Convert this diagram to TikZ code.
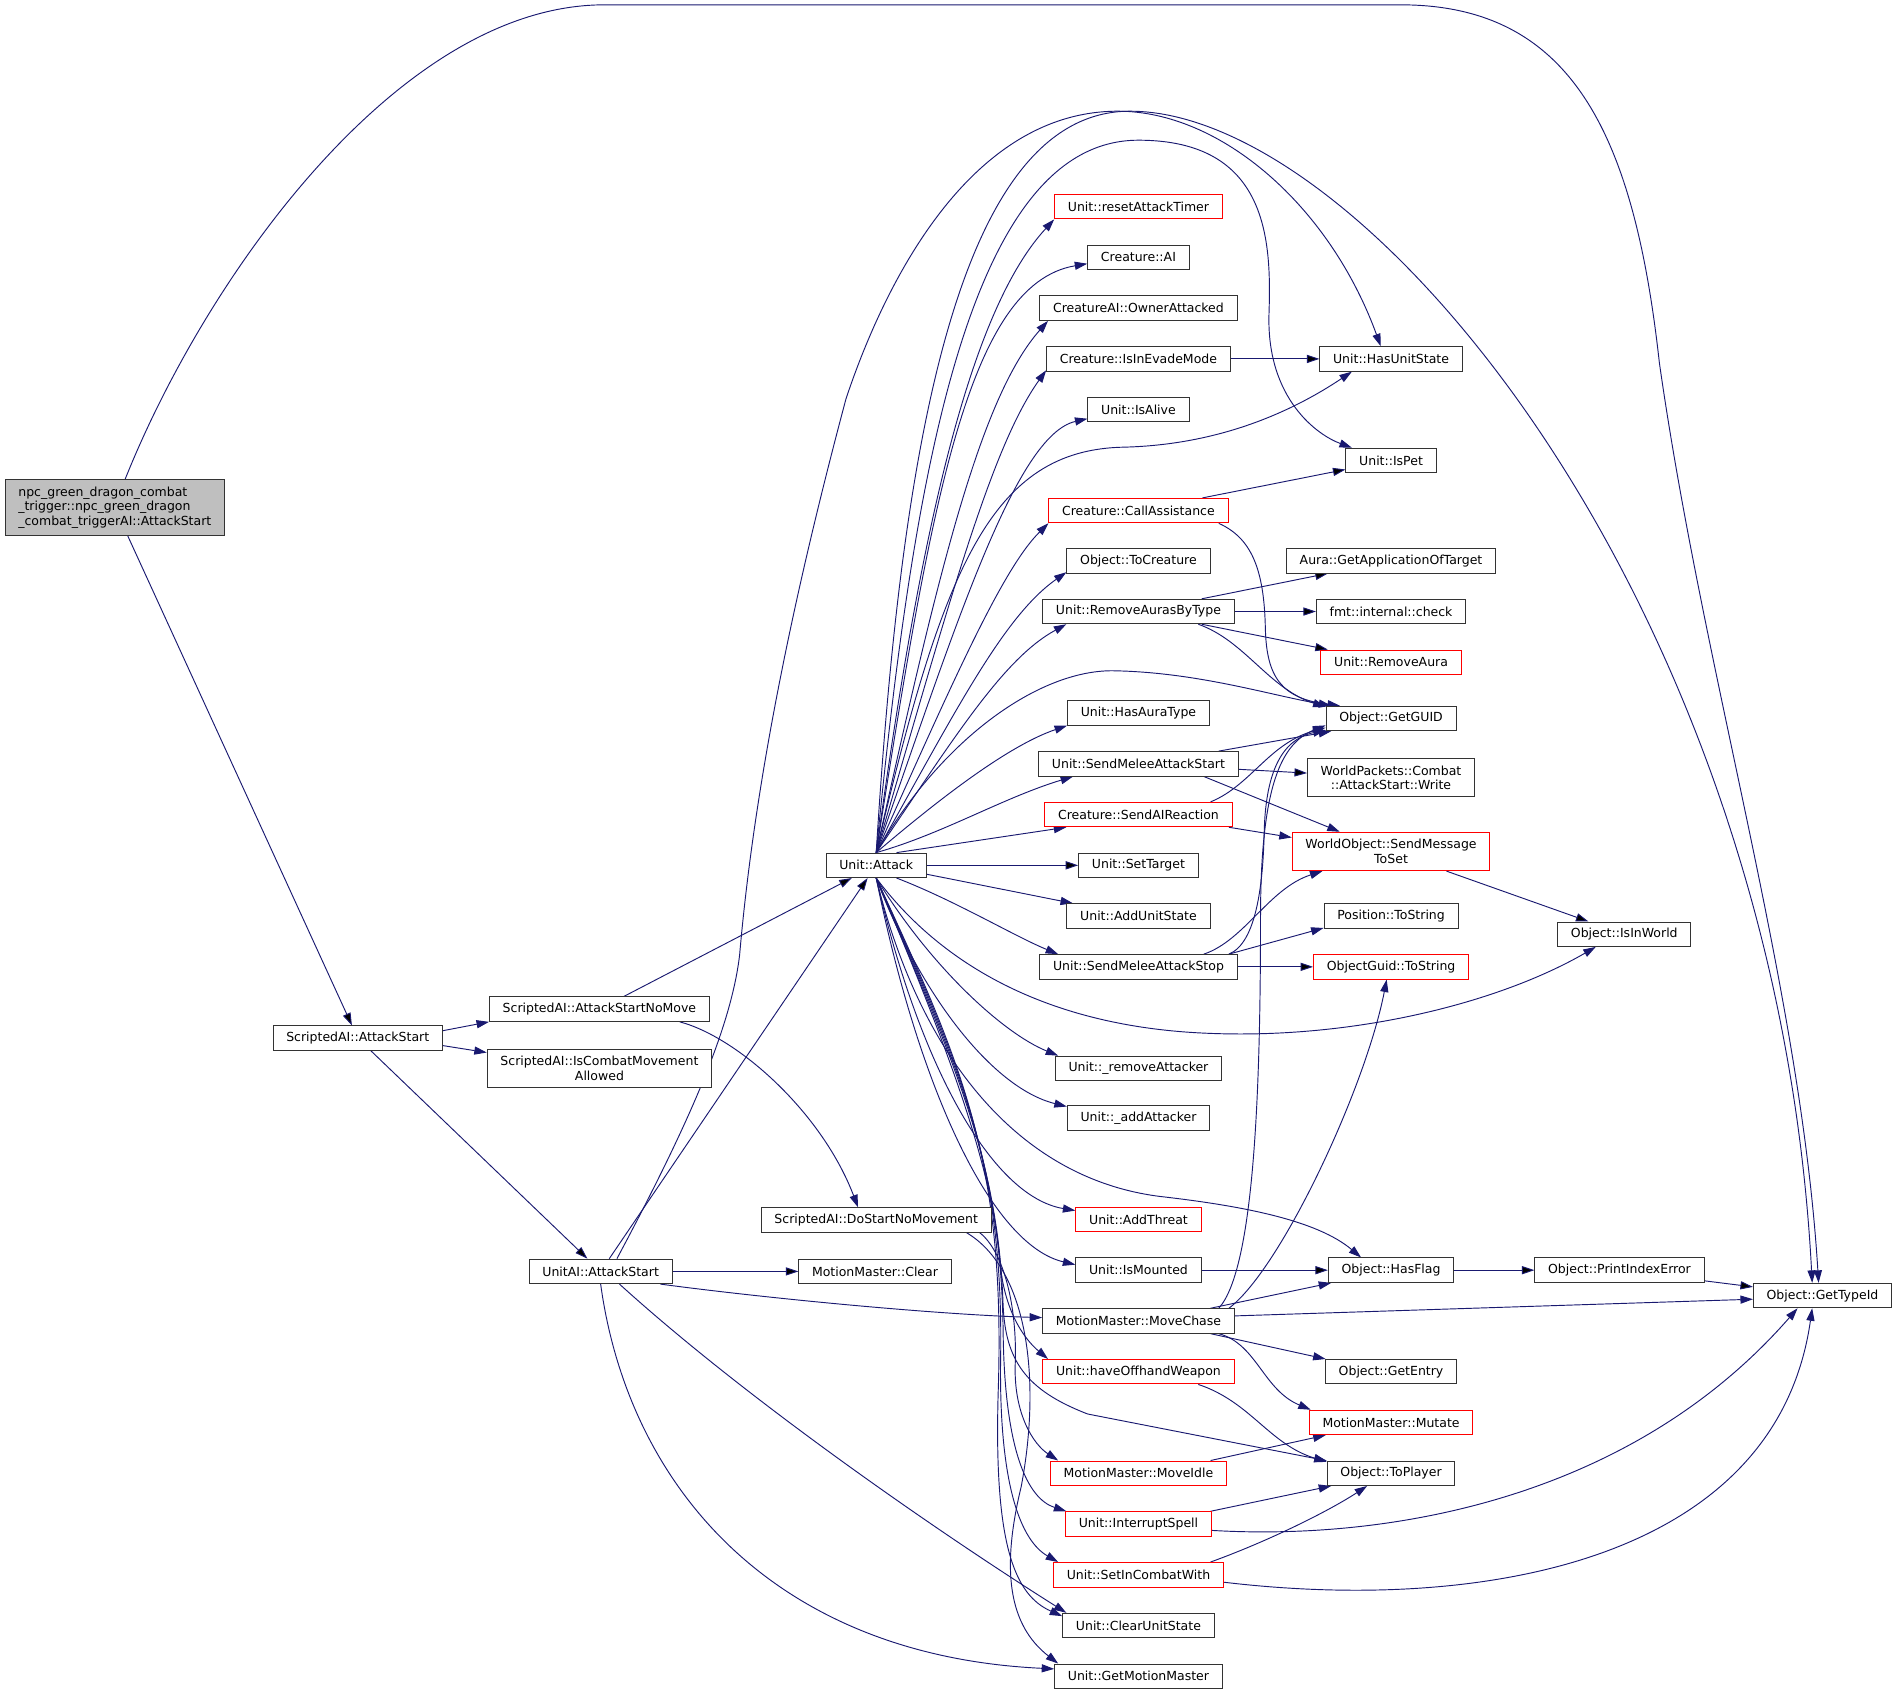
\documentclass[tikz,border=0pt]{standalone}
\usepackage{fontspec}
\setmainfont{DejaVu Sans}
\usetikzlibrary{arrows.meta}
\definecolor{edgeblue}{HTML}{191970}
\definecolor{rootgray}{HTML}{BFBFBF}
\pgfdeclarelayer{background}
\pgfsetlayers{background,main}

\begin{document}
\begin{tikzpicture}[->,>={Triangle[length=10pt,width=6.5pt]},x=0.034cm,y=-0.034cm]
        \tikzstyle{fn} = [draw=black!80, fill=white, line width=0.75pt, text=black, font=\fontsize{10}{11.6}\selectfont, inner xsep=10.6pt, inner ysep=0pt, minimum height=19.6pt]
        \tikzstyle{fnred} = [fn, draw=red]
        \tikzstyle{fntwo} = [fn, align=center, inner ysep=5.7pt]
        \tikzstyle{fnroot} = [fn, fill=rootgray, align=left, inner ysep=5.6pt]
        \tikzstyle{call} = [draw=edgeblue, line width=0.75pt]

        \useasboundingbox (0,0) rectangle (1568,1403);

        % Nodes
        \node[fnroot] (main) at (95,420) {npc\_green\_dragon\_combat\\\_trigger::npc\_green\_dragon\\\_combat\_triggerAI::AttackStart};
        \node[fn] (sAttackStart) at (296,859) {ScriptedAI::AttackStart};
        \node[fn] (sNoMove) at (496,835) {ScriptedAI::AttackStartNoMove};
        \node[fntwo] (sCombatMove) at (496,884) {ScriptedAI::IsCombatMovement\\Allowed};
        \node[fn] (aiAttackStart) at (497,1052) {UnitAI::AttackStart};
        \node[fn] (sDoStartNoMove) at (725,1009.5) {ScriptedAI::DoStartNoMovement};
        \node[fn] (mmClear) at (724,1052) {MotionMaster::Clear};
        \node[fn] (uAttack) at (725,716) {Unit::Attack};

        \node[fnred] (uResetTimer) at (942,171) {Unit::resetAttackTimer};
        \node[fn] (cAI) at (942,213) {Creature::AI};
        \node[fn] (cOwnerAttacked) at (942,255) {CreatureAI::OwnerAttacked};
        \node[fn] (cEvadeMode) at (942,297) {Creature::IsInEvadeMode};
        \node[fn] (uIsAlive) at (942,339) {Unit::IsAlive};
        \node[fnred] (cCallAssist) at (942,422.5) {Creature::CallAssistance};
        \node[fn] (oToCreature) at (942,464) {Object::ToCreature};
        \node[fn] (uRemoveAurasByType) at (942,506) {Unit::RemoveAurasByType};
        \node[fn] (uHasAuraType) at (942,590) {Unit::HasAuraType};
        \node[fn] (uMeleeStart) at (942,632) {Unit::SendMeleeAttackStart};
        \node[fnred] (cAIReaction) at (942,674) {Creature::SendAIReaction};
        \node[fn] (uSetTarget) at (942,716) {Unit::SetTarget};
        \node[fn] (uAddUnitState) at (942,758) {Unit::AddUnitState};
        \node[fn] (uMeleeStop) at (942,800) {Unit::SendMeleeAttackStop};
        \node[fn] (uRemoveAttacker) at (942,884) {Unit::\_removeAttacker};
        \node[fn] (uAddAttacker) at (942,925) {Unit::\_addAttacker};
        \node[fnred] (uAddThreat) at (942,1009) {Unit::AddThreat};
        \node[fn] (uIsMounted) at (942,1051) {Unit::IsMounted};
        \node[fn] (mmMoveChase) at (942,1093) {MotionMaster::MoveChase};
        \node[fnred] (uOffhand) at (942,1135) {Unit::haveOffhandWeapon};
        \node[fnred] (mmMoveIdle) at (942,1219) {MotionMaster::MoveIdle};
        \node[fnred] (uInterrupt) at (942,1261) {Unit::InterruptSpell};
        \node[fnred] (uInCombatWith) at (942,1303) {Unit::SetInCombatWith};
        \node[fn] (uClearUnitState) at (942,1345) {Unit::ClearUnitState};
        \node[fn] (uGetMotionMaster) at (942,1387) {Unit::GetMotionMaster};

        \node[fn] (uHasUnitState) at (1151,297) {Unit::HasUnitState};
        \node[fn] (uIsPet) at (1151,381) {Unit::IsPet};
        \node[fn] (aGetApp) at (1151,464) {Aura::GetApplicationOfTarget};
        \node[fn] (fmtCheck) at (1151,506) {fmt::internal::check};
        \node[fnred] (uRemoveAura) at (1151,548) {Unit::RemoveAura};
        \node[fn] (oGetGUID) at (1151,594.5) {Object::GetGUID};
        \node[fntwo] (wpWrite) at (1151,643.5) {WorldPackets::Combat\\::AttackStart::Write};
        \node[fntwo, draw=red] (woSendMessage) at (1151,704.5) {WorldObject::SendMessage\\ToSet};
        \node[fn] (posToString) at (1151,758) {Position::ToString};
        \node[fnred] (guidToString) at (1151,800) {ObjectGuid::ToString};
        \node[fn] (oHasFlag) at (1151,1051) {Object::HasFlag};
        \node[fn] (oGetEntry) at (1151,1135) {Object::GetEntry};
        \node[fnred] (mmMutate) at (1151,1177) {MotionMaster::Mutate};
        \node[fn] (oToPlayer) at (1151,1219) {Object::ToPlayer};

        \node[fn] (oIsInWorld) at (1344,773) {Object::IsInWorld};
        \node[fn] (oPrintIndexError) at (1340,1051) {Object::PrintIndexError};
        \node[fn] (oGetTypeId) at (1508,1072) {Object::GetTypeId};

        % Edges
        \begin{pgfonlayer}{background}
        % root
        \draw[call] (main.70) .. controls (170,230) and (330,4) .. (500,4) -- (1159,4) .. controls (1300,4) and (1352,110) .. (1373,300) .. controls (1410,560) and (1490,820) .. (oGetTypeId.107);
        \path[call] (main) edge (sAttackStart);
        % ScriptedAI
        \draw[call] (sAttackStart.5) -- (sNoMove.south west);
        \draw[call] (sAttackStart.355) -- (sCombatMove.172);
        \path[call] (sAttackStart) edge (aiAttackStart);
        \path[call] (sNoMove) edge (uAttack);
        \draw[call] (sNoMove.351) .. controls (610,858) and (680,920) .. (sDoStartNoMove.145);
        \draw[call] (sDoStartNoMove.353) .. controls (830,1035) and (842,1080) .. (840,1130) .. controls (839,1170) and (855,1195) .. (mmMoveIdle.171);
        \draw[call] (sDoStartNoMove.352) .. controls (850,1050) and (862,1140) .. (845,1230) .. controls (828,1300) and (835,1345) .. (uGetMotionMaster.171);
        % UnitAI::AttackStart
        \path[call] (aiAttackStart) edge (uAttack);
        \path[call] (aiAttackStart) edge (mmClear);
        \draw[call] (aiAttackStart.348) .. controls (640,1075) and (780,1088) .. (mmMoveChase.178);
        \draw[call] (aiAttackStart.326) .. controls (620,1160) and (780,1270) .. (uClearUnitState.170);
        \draw[call] (aiAttackStart.south) .. controls (520,1230) and (640,1370) .. (uGetMotionMaster.175);
        \draw[call] (aiAttackStart.38) .. controls (570,930) and (605,850) .. (612,790) .. controls (625,640) and (660,480) .. (700,330) .. controls (730,240) and (800,92) .. (925,92) .. controls (1010,92) and (1100,170) .. (uHasUnitState.129);
        % Unit::Attack, upwards
        \draw[call] (uAttack.north) .. controls (745,380) and (790,92) .. (935,92) .. controls (1130,92) and (1470,500) .. (oGetTypeId.129);
        \draw[call] (uAttack.north) .. controls (755,400) and (800,116) .. (942,116) .. controls (1050,116) and (1052,200) .. (1050,260) .. controls (1048,330) and (1090,360) .. (uIsPet.162);
        \draw[call] (uAttack.north) .. controls (760,450) and (800,260) .. (uResetTimer.south west);
        \draw[call] (uAttack.north) .. controls (770,420) and (800,235) .. (cAI.187);
        \draw[call] (uAttack.north) .. controls (775,480) and (810,330) .. (cOwnerAttacked.188);
        \draw[call] (uAttack.north) .. controls (785,500) and (820,370) .. (cEvadeMode.187);
        \draw[call] (uAttack.north) .. controls (790,520) and (840,360) .. (uIsAlive.190);
        \draw[call] (uAttack.north) .. controls (780,470) and (820,372) .. (930,370) .. controls (1010,368) and (1070,340) .. (uHasUnitState.198);
        \draw[call] (uAttack.north) .. controls (790,560) and (830,470) .. (cCallAssist.188);
        \draw[call] (uAttack.north) .. controls (790,590) and (830,510) .. (oToCreature.189);
        \draw[call] (uAttack.north) .. controls (790,610) and (830,545) .. (uRemoveAurasByType.190);
        \draw[call] (uAttack.north) .. controls (780,610) and (860,555) .. (920,555) .. controls (990,556) and (1050,575) .. (oGetGUID.168);
        \draw[call] (uAttack.north) .. controls (790,650) and (840,615) .. (uHasAuraType.190);
        \draw[call] (uAttack.north) .. controls (780,690) and (830,660) .. (uMeleeStart.191);
        \draw[call] (uAttack.32) -- (cAIReaction.190);
        \path[call] (uAttack) edge (uSetTarget);
        \draw[call] (uAttack.350) -- (uAddUnitState.169);
        \draw[call] (uAttack.328) .. controls (790,745) and (840,775) .. (uMeleeStop.171);
        % Unit::Attack, downwards
        \draw[call] (uAttack.south) .. controls (780,800) and (870,850) .. (1000,855) .. controls (1120,860) and (1240,830) .. (oIsInWorld.204);
        \draw[call] (uAttack.south) .. controls (770,800) and (830,855) .. (uRemoveAttacker.171);
        \draw[call] (uAttack.south) .. controls (760,820) and (820,900) .. (uAddAttacker.171);
        \draw[call] (uAttack.south) .. controls (760,870) and (840,975) .. (960,990) .. controls (1030,998) and (1090,1010) .. (oHasFlag.157);
        \draw[call] (uAttack.south) .. controls (760,880) and (820,990) .. (uAddThreat.172);
        \draw[call] (uAttack.south) .. controls (760,900) and (820,1030) .. (uIsMounted.175);
        \draw[call] (uAttack.south) .. controls (790,880) and (822,970) .. (828,1050) .. controls (833,1090) and (850,1110) .. (uOffhand.172);
        \draw[call] (uAttack.south) .. controls (790,880) and (826,960) .. (830,1080) .. controls (832,1125) and (848,1150) .. (900,1170) -- (oToPlayer.169);
        \draw[call] (uAttack.south) .. controls (792,880) and (828,960) .. (830,1100) .. controls (831,1200) and (850,1240) .. (uInterrupt.170);
        \draw[call] (uAttack.south) .. controls (794,880) and (830,960) .. (828,1120) .. controls (826,1230) and (845,1275) .. (uInCombatWith.171);
        \draw[call] (uAttack.south) .. controls (796,880) and (832,960) .. (826,1150) .. controls (822,1280) and (840,1320) .. (uClearUnitState.173);
        % second row of callees
        \path[call] (cEvadeMode) edge (uHasUnitState);
        \path[call] (cCallAssist) edge (uIsPet);
        \draw[call] (cCallAssist.351) .. controls (1035,445) and (1046,470) .. (1047,520) .. controls (1048,560) and (1060,578) .. (oGetGUID.166);
        \path[call] (uRemoveAurasByType) edge (aGetApp);
        \path[call] (uRemoveAurasByType) edge (fmtCheck);
        \path[call] (uRemoveAurasByType) edge (uRemoveAura);
        \draw[call] (uRemoveAurasByType.348) .. controls (1030,530) and (1050,570) .. (oGetGUID.170);
        \draw[call] (uMeleeStart.9) -- (oGetGUID.192);
        \path[call] (uMeleeStart) edge (wpWrite);
        \draw[call] (uMeleeStart.349) -- (woSendMessage.159);
        \draw[call] (cAIReaction.10) .. controls (1035,650) and (1050,615) .. (oGetGUID.188);
        \draw[call] (cAIReaction.352) -- (woSendMessage.172);
        \draw[call] (uMeleeStop.8) .. controls (1040,780) and (1045,730) .. (1046,690) .. controls (1047,640) and (1060,612) .. (oGetGUID.190);
        \draw[call] (uMeleeStop.11) .. controls (1030,778) and (1050,735) .. (woSendMessage.196);
        \draw[call] (uMeleeStop.8) -- (posToString.190);
        \path[call] (uMeleeStop) edge (guidToString);
        \path[call] (woSendMessage) edge (oIsInWorld);
        \path[call] (uIsMounted) edge (oHasFlag);
        \path[call] (oHasFlag) edge (oPrintIndexError);
        \path[call] (oPrintIndexError) edge (oGetTypeId);
        % MotionMaster::MoveChase
        \draw[call] (mmMoveChase.9) .. controls (1038,1050) and (1043,900) .. (1043,760) .. controls (1043,650) and (1060,615) .. (oGetGUID.186);
        \draw[call] (mmMoveChase.8) .. controls (1060,1050) and (1130,900) .. (guidToString.251);
        \draw[call] (mmMoveChase.10) -- (oHasFlag.192);
        \draw[call] (mmMoveChase.3) -- (oGetTypeId.183);
        \draw[call] (mmMoveChase.350) -- (oGetEntry.169);
        \draw[call] (mmMoveChase.351) .. controls (1040,1112) and (1045,1150) .. (mmMutate.171);
        % lower callees
        \draw[call] (uOffhand.348) .. controls (1035,1160) and (1050,1195) .. (oToPlayer.170);
        \draw[call] (mmMoveIdle.10) -- (mmMutate.191);
        \draw[call] (uInterrupt.10) -- (oToPlayer.192);
        \draw[call] (uInterrupt.355) .. controls (1150,1275) and (1350,1240) .. (oGetTypeId.207);
        \draw[call] (uInCombatWith.10) .. controls (1050,1275) and (1100,1250) .. (oToPlayer.208);
        \draw[call] (uInCombatWith.355) .. controls (1230,1335) and (1470,1290) .. (oGetTypeId.231);
        \end{pgfonlayer}
\end{tikzpicture}
\end{document}
